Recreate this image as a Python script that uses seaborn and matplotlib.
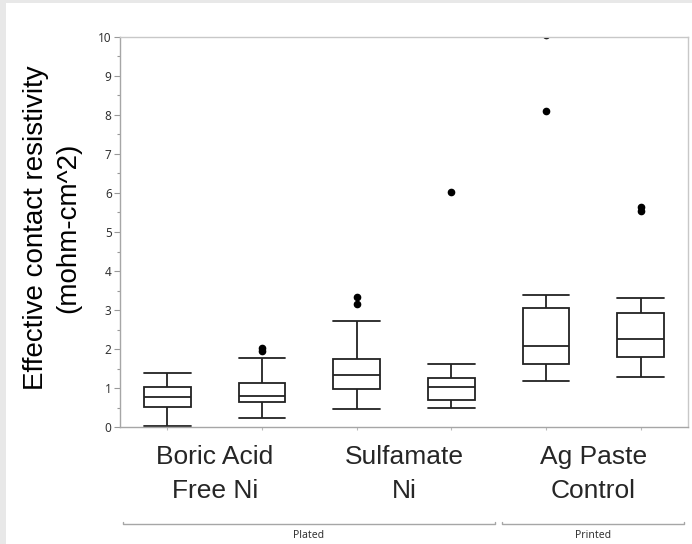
# Diagrama de cajas: resistividad de contacto efectiva
import numpy as np
import pandas as pd
import matplotlib
matplotlib.use('Agg')
import matplotlib.pyplot as plt
import matplotlib.transforms as mtransforms
from matplotlib.patches import Rectangle
import seaborn as sns

# Resumen de cada caja (dos cajas por tratamiento)
cajas = ['BA1', 'BA2', 'SF1', 'SF2', 'AG1', 'AG2']
bigote_inf = [0.03, 0.23, 0.46, 0.49, 1.19, 1.28]
q1 = [0.51, 0.66, 0.97, 0.70, 1.62, 1.79]
mediana = [0.78, 0.81, 1.34, 1.04, 2.08, 2.26]
q3 = [1.04, 1.13, 1.74, 1.25, 3.05, 2.93]
bigote_sup = [1.40, 1.77, 2.72, 1.62, 3.39, 3.32]
atipicos = [[], [2.04, 1.95], [3.33, 3.15], [6.02], [8.10, 10.05], [5.65, 5.55]]

grupos = ['Boric Acid\nFree Ni', 'Sulfamate\nNi', 'Ag Paste\nControl']
categorias = ['Plated', 'Printed']
cajas_por_categoria = [[0, 1, 2, 3], [4, 5]]

# Construir 13 valores por caja que reproducen exactamente los cuartiles
filas = []
for i, caja in enumerate(cajas):
    n_sup = 3 - len(atipicos[i])
    valores = ([bigote_inf[i]] + [q1[i]] * 3 + [mediana[i]] * 3 + [q3[i]] * 3
               + [bigote_sup[i]] * n_sup + atipicos[i])
    for v in valores:
        filas.append({'caja': caja, 'valor': v})
df = pd.DataFrame(filas)

sns.set_style('white')
fig = plt.figure(figsize=(6.92, 5.44), dpi=100)
fig.patch.set_facecolor('#e8e8e8')
fig.patches.append(Rectangle((6 / 692, 0), 1, 1 - 3 / 544, transform=fig.transFigure,
                             facecolor='white', edgecolor='none', zorder=-10))
ax = fig.add_axes([120 / 692, 1 - 427.3 / 544, 568 / 692, 390.6 / 544])

sns.boxplot(data=df, x='caja', y='valor', order=cajas, width=0.49, color='white',
            linecolor='#222222', linewidth=1.3, fliersize=4.5, capwidths=0.49,
            flierprops=dict(marker='o', markerfacecolor='black', markeredgecolor='black'),
            ax=ax)

ax.set_xlim(-0.5, 5.5)
ax.set_ylim(0, 10)
ax.set_xlabel('')

# Eje Y
ax.set_yticks(range(11))
ax.set_yticks(np.arange(0.5, 10, 1), minor=True)
ax.tick_params(axis='y', which='major', left=True, length=4, width=0.8, color='#999999',
               labelsize=8.5, labelcolor='#333333', pad=2)
ax.tick_params(axis='y', which='minor', left=True, length=2.5, width=0.8, color='#999999')
for t in ax.get_yticklabels():
    t.set_family('Noto Sans')
ax.set_ylabel('Effective contact resistivity\n(mohm-cm^2)', fontsize=20,
              family='Liberation Sans', linespacing=1.3, color='black')
ax.yaxis.set_label_coords(-0.069, 0.511)

# Eje X: etiquetas de grupo centradas entre las dos cajas
ax.set_xticks([0.5, 2.5, 4.5])
ax.set_xticklabels(grupos, fontsize=19, family='Liberation Sans', linespacing=1.5)
ax.tick_params(axis='x', which='major', length=0, pad=13)
ax.set_xticks(range(len(cajas)), minor=True)
ax.tick_params(axis='x', which='minor', bottom=True, length=2, width=0.8, color='#bbbbbb')

for lado in ['left', 'bottom']:
    ax.spines[lado].set_color('#a6a6a6')
    ax.spines[lado].set_linewidth(1)
for lado in ['top', 'right']:
    ax.spines[lado].set_color('#c8c8c8')
    ax.spines[lado].set_linewidth(1)

# Corchetes Plated / Printed debajo de las etiquetas
trans = mtransforms.blended_transform_factory(ax.transData, ax.transAxes)
for nombre, idx in zip(categorias, cajas_por_categoria):
    x0 = idx[0] - 0.47
    x1 = idx[-1] + 0.46
    ax.plot([x0, x0, x1, x1], [-0.242, -0.2476, -0.2476, -0.242], transform=trans,
            color='#a6a6a6', lw=1, clip_on=False)
    ax.text((x0 + x1) / 2, -0.276, nombre, transform=trans, ha='center', va='center',
            fontsize=7.5, family='Noto Sans', color='#333333')

fig.savefig('out.png', dpi=100)
